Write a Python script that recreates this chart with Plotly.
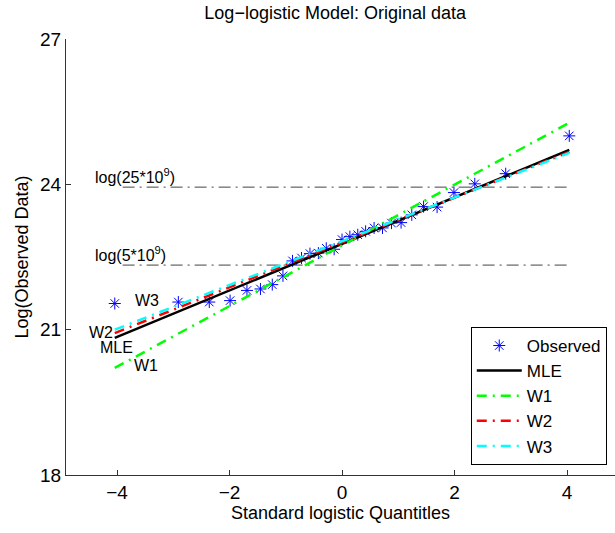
import plotly.graph_objects as go

# Observed data (standard logistic quantiles vs log observed)
q_obs = [-4.04, -2.91, -2.36, -1.99, -1.69, -1.45, -1.24, -1.05, -0.88, -0.72,
         -0.57, -0.42, -0.28, -0.14, 0.0, 0.14, 0.28, 0.42, 0.57, 0.72,
         0.88, 1.05, 1.24, 1.45, 1.69, 1.99, 2.36, 2.91, 4.04]
y_obs = [21.54, 21.57, 21.57, 21.60, 21.81, 21.84, 21.93, 22.11, 22.42, 22.48,
         22.57, 22.58, 22.68, 22.66, 22.86, 22.92, 22.96, 23.03, 23.10, 23.10,
         23.20, 23.21, 23.37, 23.54, 23.53, 23.83, 24.01, 24.22, 25.00]

# Fitted lines (endpoints)
q_fit = [-4.04, 4.04]
y_mle = [20.83, 24.71]
y_w1 = [20.21, 25.27]
y_w2 = [20.93, 24.67]
y_w3 = [21.00, 24.65]

# Reference levels
q_ref = [-3.9, 4.06]
ref_levels = [23.942, 22.333]
ref_labels = ["log(25*10<sup>9</sup>)", "log(5*10<sup>9</sup>)"]
ref_label_y = [24.18, 22.56]
ref_label_x = -4.42

# Line labels
lab_text = ["W3", "W2", "MLE", "W1"]
lab_x = [-3.47, -4.29, -4.01, -3.48]
lab_y = [21.60, 20.95, 20.64, 20.27]

FONT = "Liberation Sans, Arial, Helvetica, sans-serif"

fig = go.Figure()

for lvl in ref_levels:
    fig.add_trace(go.Scatter(x=q_ref, y=[lvl, lvl], mode="lines",
                             line=dict(color="#444444", width=1, dash="12px,5px,2px,5px"),
                             showlegend=False, hoverinfo="skip"))

fig.add_trace(go.Scatter(x=q_obs, y=y_obs, mode="markers", name="Observed",
                         marker=dict(symbol="asterisk-open", size=10, color="#0000ff",
                                     line=dict(color="#0000ff", width=1))))
fig.add_trace(go.Scatter(x=q_fit, y=y_mle, mode="lines", name="MLE",
                         line=dict(color="black", width=2.5)))
fig.add_trace(go.Scatter(x=q_fit, y=y_w1, mode="lines", name="W1",
                         line=dict(color="#00ff00", width=2.5, dash="10px,6px,2px,6px")))
fig.add_trace(go.Scatter(x=q_fit, y=y_w2, mode="lines", name="W2",
                         line=dict(color="#ff0000", width=2.5, dash="10px,6px,2px,6px")))
fig.add_trace(go.Scatter(x=q_fit, y=y_w3, mode="lines", name="W3",
                         line=dict(color="#00ffff", width=2.5, dash="10px,6px,2px,6px")))

for t, ly in zip(ref_labels, ref_label_y):
    fig.add_annotation(x=ref_label_x, y=ly, text=t, showarrow=False,
                       xanchor="left", yanchor="middle",
                       font=dict(family=FONT, size=16, color="black"))

for t, lx, ly in zip(lab_text, lab_x, lab_y):
    fig.add_annotation(x=lx, y=ly, text=t, showarrow=False,
                       xanchor="center", yanchor="middle",
                       font=dict(family=FONT, size=16, color="black"))

fig.update_layout(
    width=615, height=533,
    margin=dict(l=66, r=0, t=39, b=58),
    paper_bgcolor="white", plot_bgcolor="white",
    font=dict(family=FONT, color="black"),
    title=dict(text="Log\u2212logistic Model: Original data", x=0.545, xanchor="center",
               y=0.977, yanchor="middle", font=dict(family=FONT, size=18, color="black")),
    showlegend=True,
    legend=dict(x=0.985, xanchor="right", y=0.023, yanchor="bottom",
                bgcolor="white", bordercolor="black", borderwidth=1,
                font=dict(family=FONT, size=17, color="black"),
                tracegroupgap=0, itemwidth=45),
)

fig.update_xaxes(range=[-4.907, 4.853], tickvals=[-4, -2, 0, 2, 4],
                 ticks="inside", ticklen=5, tickcolor="#333333",
                 showline=True, linecolor="#333333", linewidth=1,
                 showgrid=False, zeroline=False,
                 tickfont=dict(family=FONT, size=19, color="black"),
                 title=dict(text="Standard logistic Quantitles", standoff=4,
                            font=dict(family=FONT, size=18, color="black")))
fig.update_yaxes(range=[18, 27], tickvals=[18, 21, 24, 27],
                 ticks="inside", ticklen=5, tickcolor="#333333",
                 showline=True, linecolor="#333333", linewidth=1,
                 showgrid=False, zeroline=False,
                 tickfont=dict(family=FONT, size=19, color="black"),
                 title=dict(text="Log(Observed Data)", standoff=6,
                            font=dict(family=FONT, size=18, color="black")))

fig.write_html("out.html")
